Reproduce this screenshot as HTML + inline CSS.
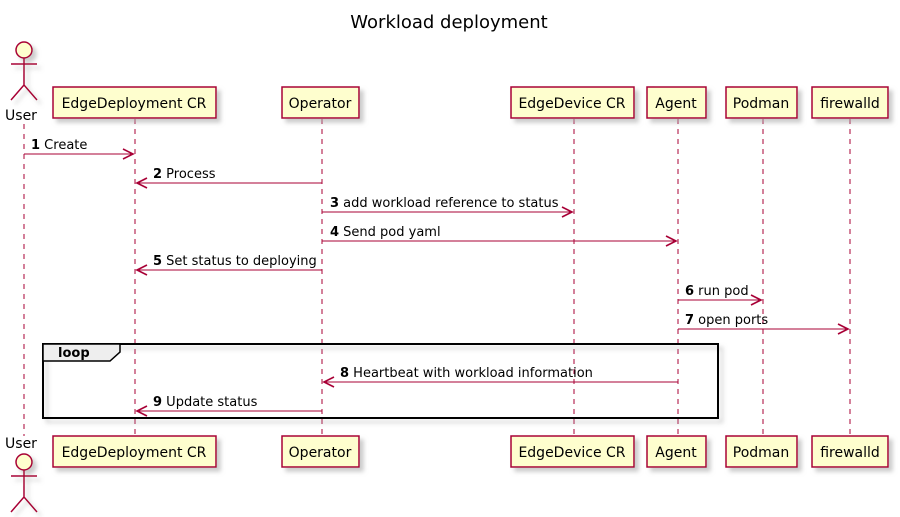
<!DOCTYPE html>
<html><head><style>body{margin:0;background:#fff}svg{display:block}</style></head><body>
<svg width="900" height="517" viewBox="0 0 900 517" xmlns="http://www.w3.org/2000/svg" font-family="DejaVu Sans, Liberation Sans, sans-serif">
<defs>
<filter id="sh" x="-20%" y="-20%" width="150%" height="150%"><feOffset dx="4" dy="4" in="SourceAlpha" result="o"/><feGaussianBlur in="o" stdDeviation="2" result="b"/><feColorMatrix in="b" type="matrix" values="0 0 0 0 0.4 0 0 0 0 0.4 0 0 0 0 0.4 0 0 0 0.6 0"/><feMerge><feMergeNode/><feMergeNode in="SourceGraphic"/></feMerge></filter>
</defs>
<text x="449" y="28" font-size="18" text-anchor="middle" fill="#000">Workload deployment</text>
<g stroke="#A80036" stroke-width="1" stroke-dasharray="5,5">
<line x1="24" y1="124" x2="24" y2="436"/>
<line x1="135" y1="119" x2="135" y2="436"/>
<line x1="322" y1="119" x2="322" y2="436"/>
<line x1="574" y1="119" x2="574" y2="436"/>
<line x1="678" y1="119" x2="678" y2="436"/>
<line x1="763" y1="119" x2="763" y2="436"/>
<line x1="850" y1="119" x2="850" y2="436"/>
</g>
<g fill="#FEFECE" stroke="#A80036" stroke-width="1.5" filter="url(#sh)">
<rect x="53" y="87" width="163" height="31"/><rect x="282" y="87" width="77" height="31"/><rect x="511" y="87" width="123" height="31"/><rect x="647" y="87" width="59" height="31"/><rect x="726" y="87" width="71" height="31"/><rect x="812" y="87" width="76" height="31"/>
<rect x="53" y="436" width="163" height="31"/><rect x="282" y="436" width="77" height="31"/><rect x="511" y="436" width="123" height="31"/><rect x="647" y="436" width="59" height="31"/><rect x="726" y="436" width="71" height="31"/><rect x="812" y="436" width="76" height="31"/>
</g>
<g font-size="14" text-anchor="middle" fill="#000">
<text x="134" y="108">EdgeDeployment CR</text><text x="320" y="108">Operator</text><text x="572" y="108">EdgeDevice CR</text><text x="676" y="108">Agent</text><text x="761" y="108">Podman</text><text x="850" y="108">firewalld</text>
<text x="134" y="457">EdgeDeployment CR</text><text x="320" y="457">Operator</text><text x="572" y="457">EdgeDevice CR</text><text x="676" y="457">Agent</text><text x="761" y="457">Podman</text><text x="850" y="457">firewalld</text>
<text x="21" y="120">User</text><text x="21" y="448">User</text>
</g>
<g fill="none" stroke="#A80036" stroke-width="1.5" filter="url(#sh)">
<circle cx="24" cy="50" r="8" fill="#FEFECE"/><path d="M24 58V85M11 64H37M24 85L11 100M24 85L37 100"/>
<circle cx="24" cy="462" r="8" fill="#FEFECE"/><path d="M24 470V497M11 476H37M24 497L11 512M24 497L37 512"/>
</g>
<g filter="url(#sh)"><rect x="43" y="344" width="675" height="74" fill="none" stroke="#000" stroke-width="2"/></g>
<path d="M43 344H120V352L110 361H43Z" fill="#EEEEEE" stroke="#000" stroke-width="1.5"/>
<text x="58" y="357" font-size="13" font-weight="bold">loop</text>
<g stroke="#A80036" stroke-width="1" fill="none">
<line x1="24" y1="154" x2="133" y2="154"/>
<line x1="137" y1="183" x2="322" y2="183"/>
<line x1="322" y1="212" x2="572" y2="212"/>
<line x1="322" y1="241" x2="676" y2="241"/>
<line x1="137" y1="270" x2="322" y2="270"/>
<line x1="678" y1="300" x2="761" y2="300"/>
<line x1="678" y1="329" x2="848" y2="329"/>
<line x1="324" y1="382" x2="678" y2="382"/>
<line x1="137" y1="411" x2="322" y2="411"/>
</g>
<g stroke="#A80036" stroke-width="1.6" fill="none">
<path d="M123 149L133 154L123 159"/>
<path d="M147 178L137 183L147 188"/>
<path d="M562 207L572 212L562 217"/>
<path d="M666 236L676 241L666 246"/>
<path d="M147 265L137 270L147 275"/>
<path d="M751 295L761 300L751 305"/>
<path d="M838 324L848 329L838 334"/>
<path d="M334 377L324 382L334 387"/>
<path d="M147 406L137 411L147 416"/>
</g>
<g font-size="13" fill="#000">
<text x="31" y="149"><tspan font-weight="bold">1</tspan> Create</text>
<text x="153" y="178"><tspan font-weight="bold">2</tspan> Process</text>
<text x="330" y="207"><tspan font-weight="bold">3</tspan> add workload reference to status</text>
<text x="330" y="236"><tspan font-weight="bold">4</tspan> Send pod yaml</text>
<text x="153" y="265"><tspan font-weight="bold">5</tspan> Set status to deploying</text>
<text x="685" y="295"><tspan font-weight="bold">6</tspan> run pod</text>
<text x="685" y="324"><tspan font-weight="bold">7</tspan> open ports</text>
<text x="340" y="377"><tspan font-weight="bold">8</tspan> Heartbeat with workload information</text>
<text x="153" y="406"><tspan font-weight="bold">9</tspan> Update status</text>
</g>
</svg>
</body></html>
